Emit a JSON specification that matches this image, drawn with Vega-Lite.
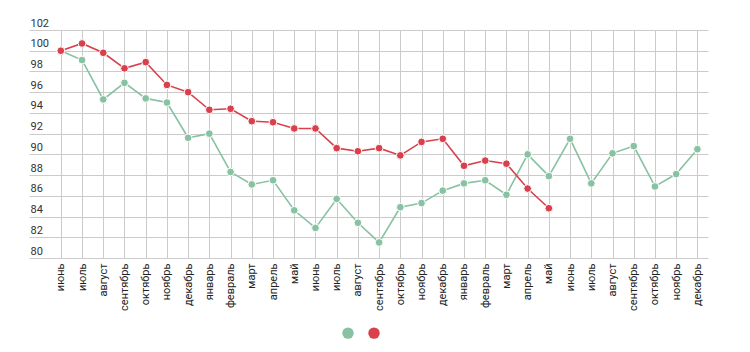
{
  "$schema": "https://vega.github.io/schema/vega-lite/v6.json",
  "width": 679,
  "height": 228,
  "autosize": {"type": "none"},
  "padding": {"left": 29, "top": 30, "right": 42, "bottom": 94},
  "background": "white",
  "config": {
    "view": {"stroke": null},
    "font": "Roboto",
    "axis": {"gridColor": "#cbcbcb", "gridWidth": 1, "labelFont": "Roboto", "labelColor": "#333333"}
  },
  "data": {
    "values": [
      {"i": 0, "month": "июнь", "series": "ряд 1", "value": 100.0},
      {"i": 1, "month": "июль", "series": "ряд 1", "value": 99.1},
      {"i": 2, "month": "август", "series": "ряд 1", "value": 95.3},
      {"i": 3, "month": "сентябрь", "series": "ряд 1", "value": 96.9},
      {"i": 4, "month": "октябрь", "series": "ряд 1", "value": 95.4},
      {"i": 5, "month": "ноябрь", "series": "ряд 1", "value": 95.0},
      {"i": 6, "month": "декабрь", "series": "ряд 1", "value": 91.6},
      {"i": 7, "month": "январь", "series": "ряд 1", "value": 92.0},
      {"i": 8, "month": "февраль", "series": "ряд 1", "value": 88.3},
      {"i": 9, "month": "март", "series": "ряд 1", "value": 87.1},
      {"i": 10, "month": "апрель", "series": "ряд 1", "value": 87.5},
      {"i": 11, "month": "май", "series": "ряд 1", "value": 84.6},
      {"i": 12, "month": "июнь", "series": "ряд 1", "value": 82.9},
      {"i": 13, "month": "июль", "series": "ряд 1", "value": 85.7},
      {"i": 14, "month": "август", "series": "ряд 1", "value": 83.4},
      {"i": 15, "month": "сентябрь", "series": "ряд 1", "value": 81.5},
      {"i": 16, "month": "октябрь", "series": "ряд 1", "value": 84.9},
      {"i": 17, "month": "ноябрь", "series": "ряд 1", "value": 85.3},
      {"i": 18, "month": "декабрь", "series": "ряд 1", "value": 86.5},
      {"i": 19, "month": "январь", "series": "ряд 1", "value": 87.2},
      {"i": 20, "month": "февраль", "series": "ряд 1", "value": 87.5},
      {"i": 21, "month": "март", "series": "ряд 1", "value": 86.1},
      {"i": 22, "month": "апрель", "series": "ряд 1", "value": 90.0},
      {"i": 23, "month": "май", "series": "ряд 1", "value": 87.9},
      {"i": 24, "month": "июнь", "series": "ряд 1", "value": 91.5},
      {"i": 25, "month": "июль", "series": "ряд 1", "value": 87.2},
      {"i": 26, "month": "август", "series": "ряд 1", "value": 90.1},
      {"i": 27, "month": "сентябрь", "series": "ряд 1", "value": 90.8},
      {"i": 28, "month": "октябрь", "series": "ряд 1", "value": 86.9},
      {"i": 29, "month": "ноябрь", "series": "ряд 1", "value": 88.1},
      {"i": 30, "month": "декабрь", "series": "ряд 1", "value": 90.5},
      {"i": 0, "month": "июнь", "series": "ряд 2", "value": 100.0},
      {"i": 1, "month": "июль", "series": "ряд 2", "value": 100.7},
      {"i": 2, "month": "август", "series": "ряд 2", "value": 99.8},
      {"i": 3, "month": "сентябрь", "series": "ряд 2", "value": 98.3},
      {"i": 4, "month": "октябрь", "series": "ряд 2", "value": 98.9},
      {"i": 5, "month": "ноябрь", "series": "ряд 2", "value": 96.7},
      {"i": 6, "month": "декабрь", "series": "ряд 2", "value": 96.0},
      {"i": 7, "month": "январь", "series": "ряд 2", "value": 94.3},
      {"i": 8, "month": "февраль", "series": "ряд 2", "value": 94.4},
      {"i": 9, "month": "март", "series": "ряд 2", "value": 93.2},
      {"i": 10, "month": "апрель", "series": "ряд 2", "value": 93.1},
      {"i": 11, "month": "май", "series": "ряд 2", "value": 92.5},
      {"i": 12, "month": "июнь", "series": "ряд 2", "value": 92.5},
      {"i": 13, "month": "июль", "series": "ряд 2", "value": 90.6},
      {"i": 14, "month": "август", "series": "ряд 2", "value": 90.3},
      {"i": 15, "month": "сентябрь", "series": "ряд 2", "value": 90.6},
      {"i": 16, "month": "октябрь", "series": "ряд 2", "value": 89.9},
      {"i": 17, "month": "ноябрь", "series": "ряд 2", "value": 91.2},
      {"i": 18, "month": "декабрь", "series": "ряд 2", "value": 91.5},
      {"i": 19, "month": "январь", "series": "ряд 2", "value": 88.9},
      {"i": 20, "month": "февраль", "series": "ряд 2", "value": 89.4},
      {"i": 21, "month": "март", "series": "ряд 2", "value": 89.1},
      {"i": 22, "month": "апрель", "series": "ряд 2", "value": 86.7},
      {"i": 23, "month": "май", "series": "ряд 2", "value": 84.8}
    ]
  },
  "encoding": {
    "x": {
      "field": "i",
      "type": "quantitative",
      "scale": {"domain": [-1.5, 30.5], "nice": false, "zero": false},
      "axis": {
        "title": null,
        "values": [0,1,2,3,4,5,6,7,8,9,10,11,12,13,14,15,16,17,18,19,20,21,22,23,24,25,26,27,28,29,30],
        "labelExpr": "['июнь','июль','август','сентябрь','октябрь','ноябрь','декабрь','январь','февраль','март','апрель','май','июнь','июль','август','сентябрь','октябрь','ноябрь','декабрь','январь','февраль','март','апрель','май','июнь','июль','август','сентябрь','октябрь','ноябрь','декабрь'][datum.value]",
        "labelAngle": 270,
        "labelAlign": "right",
        "labelBaseline": "middle",
        "labelPadding": 5,
        "labelFontSize": 11,
        "labelColor": "#222222",
        "ticks": false,
        "tickSize": 0,
        "domain": false,
        "grid": true,
        "labelOverlap": false,
        "labelBound": false
      }
    },
    "y": {
      "field": "value",
      "type": "quantitative",
      "scale": {"domain": [80, 102], "nice": false, "zero": false},
      "axis": {
        "title": null,
        "values": [80,82,84,86,88,90,92,94,96,98,100,102],
        "labelAlign": "left",
        "labelBaseline": "bottom",
        "labelPadding": -1,
        "labelOffset": -2,
        "labelFontSize": 11,
        "ticks": false,
        "tickSize": 0,
        "domain": false,
        "grid": true,
        "labelOverlap": false,
        "labelBound": false
      }
    },
    "color": {
      "field": "series",
      "type": "nominal",
      "scale": {"domain": ["ряд 1", "ряд 2"], "range": ["#88c2a2", "#d8404c"]},
      "legend": {
        "title": null,
        "orient": "none",
        "legendX": 313,
        "legendY": 297,
        "direction": "horizontal",
        "symbolType": "circle",
        "symbolSize": 130,
        "symbolStrokeWidth": 0,
        "symbolOpacity": 1,
        "labelExpr": "''",
        "labelOffset": 0,
        "columnPadding": 14,
        "padding": 0
      }
    }
  },
  "layer": [
    {"mark": {"type": "line", "strokeWidth": 1.6}},
    {"mark": {"type": "point", "filled": true, "opacity": 1, "size": 60, "stroke": "white", "strokeWidth": 1}}
  ]
}
